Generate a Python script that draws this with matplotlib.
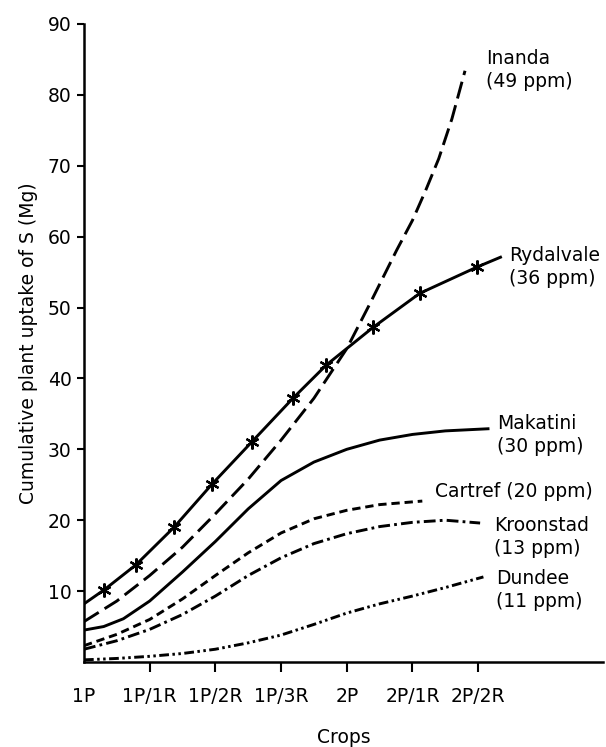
import matplotlib.pyplot as plt

# crops along the x axis (position = index)
crops = ['1P', '1P/1R', '1P/2R', '1P/3R', '2P', '2P/1R', '2P/2R']
yticks = [10, 20, 30, 40, 50, 60, 70, 80, 90]

# curves, x in crop units (0 = 1P)
ryd_x = [0, 0.31, 0.79, 1.37, 1.95, 2.55, 3.18, 3.69, 4.4, 5.11, 5.98, 6.34]
ryd_y = [8.2, 10.2, 13.7, 19.0, 25.1, 31.0, 37.2, 41.9, 47.2, 52.0, 55.7, 57.1]

ina_x = [0, 0.5, 1.0, 1.5, 2.0, 2.5, 3.0, 3.5, 4.0, 4.35, 4.76, 5.0, 5.2, 5.4, 5.6, 5.8]
ina_y = [5.7, 8.6, 12.2, 16.2, 20.9, 25.8, 31.3, 37.2, 44.2, 50.5, 58.1, 62.3, 66.5, 71.0, 76.6, 83.4]

mak_x = [0, 0.3, 0.6, 1.0, 1.5, 2.0, 2.5, 3.0, 3.5, 4.0, 4.5, 5.0, 5.5, 6.15]
mak_y = [4.5, 5.0, 6.1, 8.6, 12.7, 17.0, 21.6, 25.6, 28.2, 30.0, 31.3, 32.1, 32.6, 32.9]

car_x = [0, 0.5, 1.0, 1.5, 2.0, 2.5, 3.0, 3.5, 4.0, 4.5, 5.15]
car_y = [2.3, 3.9, 6.0, 8.9, 12.2, 15.4, 18.2, 20.2, 21.4, 22.2, 22.7]

kro_x = [0, 0.5, 1.0, 1.5, 2.0, 2.5, 3.0, 3.5, 4.0, 4.5, 5.0, 5.5, 6.03]
kro_y = [1.8, 3.0, 4.6, 6.7, 9.3, 12.2, 14.7, 16.7, 18.1, 19.1, 19.7, 20.0, 19.6]

dun_x = [0, 0.5, 1.0, 1.5, 2.0, 2.5, 3.0, 3.5, 4.0, 4.5, 5.0, 5.5, 6.08]
dun_y = [0.3, 0.5, 0.8, 1.2, 1.8, 2.7, 3.8, 5.3, 6.9, 8.2, 9.3, 10.5, 12.0]

plt.rcParams['font.family'] = 'DejaVu Sans'
plt.rcParams['lines.scale_dashes'] = False
fs = 13.5
lw = 2.1

fig = plt.figure(figsize=(6.06, 7.47), dpi=100)
ax = fig.add_axes([0.1386, 0.1138, 0.8564, 0.8541])

ax.plot(ryd_x, ryd_y, color='black', lw=lw, marker=(6, 2, 0), markersize=10,
        markeredgewidth=1.6, markevery=list(range(1, len(ryd_x) - 1)))
ax.plot(ina_x, ina_y, color='black', lw=lw, linestyle=(0, (12.5, 5)))
ax.plot(mak_x, mak_y, color='black', lw=lw)
ax.plot(car_x, car_y, color='black', lw=lw, linestyle=(0, (6, 3.5)))
ax.plot(kro_x, kro_y, color='black', lw=lw, linestyle=(0, (8.5, 3, 2, 3)))
ax.plot(dun_x, dun_y, color='black', lw=lw, linestyle=(0, (7, 2.5, 1.8, 2.5, 1.8, 2.5)))

# curve labels
ax.text(6.12, 83.5, 'Inanda\n(49 ppm)', fontsize=fs, va='center', linespacing=1.25)
ax.text(6.47, 55.7, 'Rydalvale\n(36 ppm)', fontsize=fs, va='center', linespacing=1.25)
ax.text(6.29, 32.0, 'Makatini\n(30 ppm)', fontsize=fs, va='center', linespacing=1.25)
ax.text(5.35, 24.0, 'Cartref (20 ppm)', fontsize=fs, va='center')
ax.text(6.24, 17.6, 'Kroonstad\n(13 ppm)', fontsize=fs, va='center', linespacing=1.25)
ax.text(6.27, 10.2, 'Dundee\n(11 ppm)', fontsize=fs, va='center', linespacing=1.25)

ax.set_xlim(0, 7.9)
ax.set_ylim(0, 90)
ax.set_xticks(range(len(crops)))
ax.set_xticklabels(crops, fontsize=fs)
ax.set_yticks(yticks)
ax.set_yticklabels([str(v) for v in yticks], fontsize=fs)
ax.tick_params(axis='x', length=7, width=1.5, pad=11)
ax.tick_params(axis='y', length=5, width=1.5, pad=4)
# first tick sits on the axis, hide its mark
ax.xaxis.get_major_ticks()[0].tick1line.set_visible(False)

ax.spines['top'].set_visible(False)
ax.spines['right'].set_visible(False)
ax.spines['left'].set_linewidth(1.8)
ax.spines['bottom'].set_linewidth(1.8)

ax.set_xlabel('Crops', fontsize=fs, labelpad=16)
ax.set_ylabel('Cumulative plant uptake of S (Mg)', fontsize=fs, labelpad=7)

plt.savefig('out.png', dpi=100)
